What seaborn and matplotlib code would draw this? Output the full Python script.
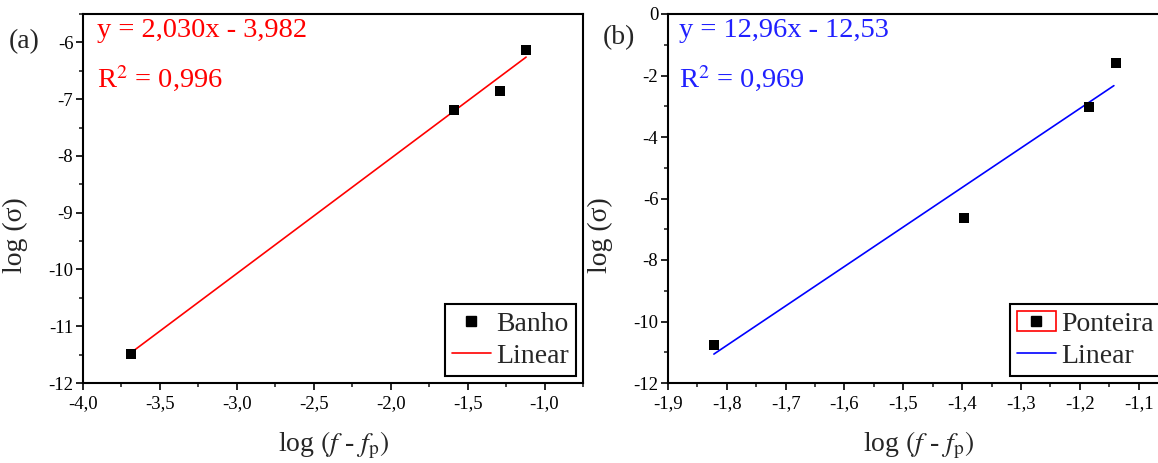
import matplotlib
matplotlib.use('Agg')
import matplotlib.pyplot as plt
import seaborn as sns
from matplotlib.lines import Line2D
from matplotlib.patches import Rectangle
from matplotlib.legend_handler import HandlerTuple
from matplotlib.ticker import MultipleLocator, FuncFormatter

# values
banho_x = [-3.69, -1.59, -1.29, -1.12]
banho_y = [-11.49, -7.19, -6.85, -6.14]
banho_fit_x = [-3.69, -1.12]
banho_fit_y = [-11.47, -6.26]
banho_eq = 'y = 2,030x - 3,982'
banho_r2 = 'R$^2$ = 0,996'

ponteira_x = [-1.822, -1.396, -1.184, -1.138]
ponteira_y = [-10.77, -6.63, -3.03, -1.60]
ponteira_fit_x = [-1.822, -1.142]
ponteira_fit_y = [-11.06, -2.33]
ponteira_eq = 'y = 12,96x - 12,53'
ponteira_r2 = 'R$^2$ = 0,969'

sns.set_style('ticks')
plt.rcParams['font.family'] = ['Liberation Serif', 'DejaVu Serif']
plt.rcParams['mathtext.fontset'] = 'stix'

fig = plt.figure(figsize=(11.58, 4.63), dpi=100)
W, H = 1158, 463
ax_a = fig.add_axes([83 / W, (H - 383) / H, 500 / W, 369 / H])
ax_b = fig.add_axes([668 / W, (H - 383) / H, 500 / W, 369 / H])

comma1 = FuncFormatter(lambda v, p: f'{v:.1f}'.replace('.', ','))
intfmt = FuncFormatter(lambda v, p: f'{v:.0f}')

def style_axes(ax, xlim, ylim, xmaj, xmin, ymaj, ymin):
    ax.set_xlim(*xlim)
    ax.set_ylim(*ylim)
    ax.xaxis.set_major_locator(MultipleLocator(xmaj))
    ax.xaxis.set_minor_locator(MultipleLocator(xmin))
    ax.yaxis.set_major_locator(MultipleLocator(ymaj))
    ax.yaxis.set_minor_locator(MultipleLocator(ymin))
    ax.xaxis.set_major_formatter(comma1)
    ax.yaxis.set_major_formatter(intfmt)
    for s in ax.spines.values():
        s.set_visible(True)
        s.set_linewidth(1.5)
        s.set_color('black')
    ax.tick_params(which='major', direction='out', length=5, width=1.2,
                   labelsize=13.5, pad=2, colors='black')
    ax.tick_params(which='minor', direction='out', length=3, width=1.2)
    ax.tick_params(axis='x', which='major', pad=4)
    ax.set_xlabel(r'log $(\mathit{f}$ - $\mathit{f}_{\mathrm{p}})$', fontsize=20)
    ax.set_ylabel('log (σ)', fontsize=20)
    ax.xaxis.set_label_coords(0.5, -0.125)
    ax.yaxis.set_label_coords(-0.11, 0.4)
    ax.set_facecolor('white')

# (a) Banho
sns.scatterplot(x=banho_x, y=banho_y, marker='s', s=44, color='black',
                edgecolor='black', linewidth=0, ax=ax_a, zorder=3, legend=False)
sns.lineplot(x=banho_fit_x, y=banho_fit_y, color='#ff0000', lw=1.2, ax=ax_a,
             legend=False)
style_axes(ax_a, (-4.0, -0.75), (-12, -5.5), 0.5, 0.25, 1, 0.5)
ax_a.text(0.028, 0.955, banho_eq, color='#ff0000', fontsize=20.5,
          transform=ax_a.transAxes, va='center', ha='left')
ax_a.text(0.028, 0.825, banho_r2, color='#ff0000', fontsize=20.5,
          transform=ax_a.transAxes, va='center', ha='left')
h_sq = Line2D([], [], marker='s', ls='none', color='black', markersize=6.5)
h_red = Line2D([], [], color='#ff0000', lw=1.2)
leg_a = ax_a.legend([h_sq, h_red], ['Banho', 'Linear'], loc='lower right',
                    fontsize=20, frameon=True, fancybox=False, framealpha=1,
                    edgecolor='black', borderpad=0.25, labelspacing=0.25,
                    handlelength=1.4, handletextpad=0.2, borderaxespad=0.25)
leg_a.get_frame().set_linewidth(1.5)

# (b) Ponteira
sns.scatterplot(x=ponteira_x, y=ponteira_y, marker='s', s=44, color='black',
                edgecolor='black', linewidth=0, ax=ax_b, zorder=3, legend=False)
sns.lineplot(x=ponteira_fit_x, y=ponteira_fit_y, color='#0000ff', lw=1.2,
             ax=ax_b, legend=False)
style_axes(ax_b, (-1.9, -1.05), (-12, 0), 0.1, 0.05, 2, 1)
ax_b.text(0.022, 0.955, ponteira_eq, color='#2020ff', fontsize=20.5,
          transform=ax_b.transAxes, va='center', ha='left')
ax_b.text(0.022, 0.825, ponteira_r2, color='#2020ff', fontsize=20.5,
          transform=ax_b.transAxes, va='center', ha='left')
h_box = Rectangle((0, 0), 1, 1, facecolor='white', edgecolor='#ff0000', lw=1.2)
h_sq2 = Line2D([], [], marker='s', ls='none', color='black', markersize=6.5)
h_blue = Line2D([], [], color='#0000ff', lw=1.2)
leg_b = ax_b.legend([(h_box, h_sq2), h_blue], ['Ponteira', 'Linear'],
                    handler_map={tuple: HandlerTuple(ndivide=1, pad=0)},
                    loc='lower right', fontsize=20, frameon=True, fancybox=False,
                    framealpha=1, edgecolor='black', borderpad=0.25,
                    labelspacing=0.25, handlelength=1.4, handletextpad=0.2,
                    borderaxespad=0.25)
leg_b.get_frame().set_linewidth(1.5)

fig.text(9 / W, 1 - 42 / H, '(a)', fontsize=20, va='center', ha='left')
fig.text(603 / W, 1 - 38 / H, '(b)', fontsize=20, va='center', ha='left')

fig.savefig('out.png', dpi=100)
